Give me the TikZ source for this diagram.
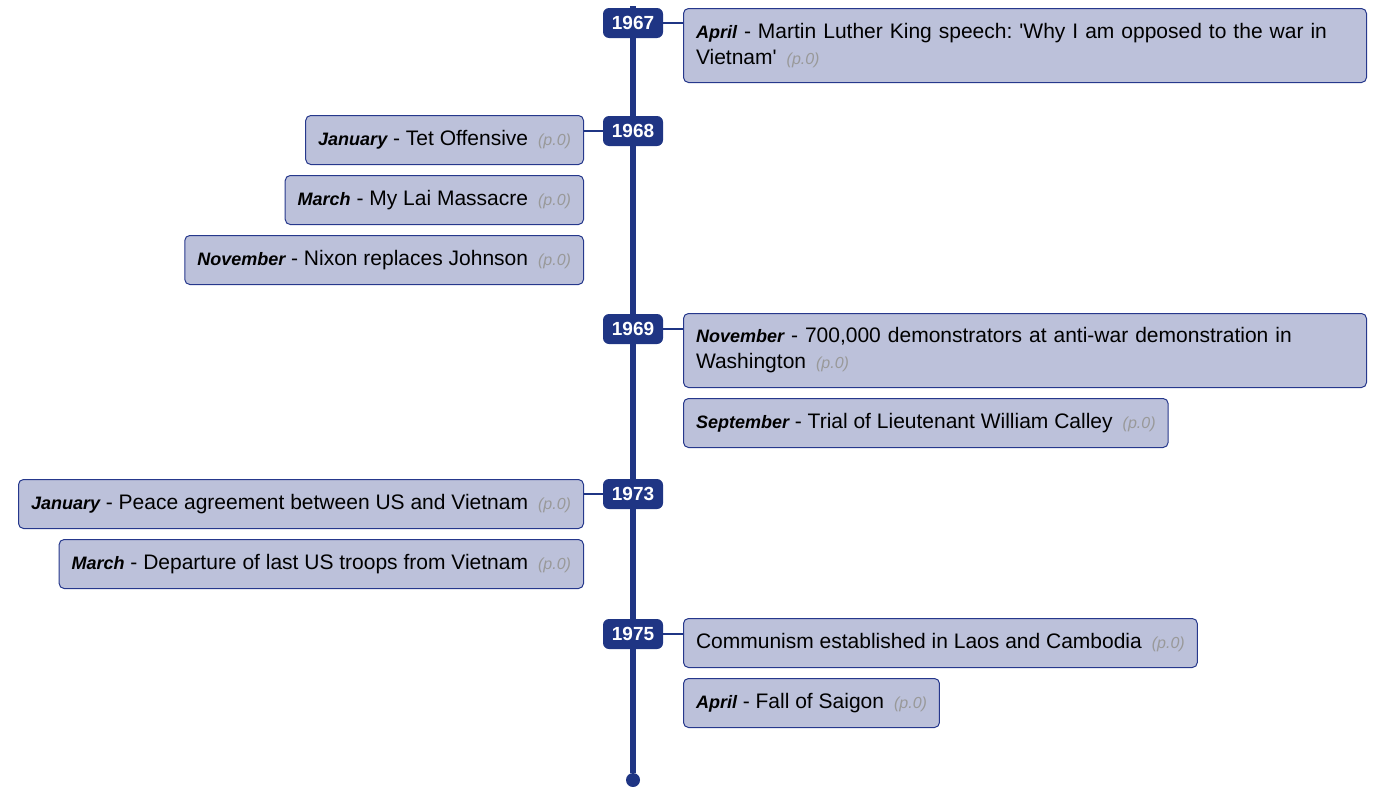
\documentclass[tikz,border=0pt]{standalone}
\usepackage{fontspec}
\setmainfont{Liberation Sans}[Ligatures=TeXOff]
\usetikzlibrary{positioning}
\definecolor{linecol}{RGB}{31,53,132}
\definecolor{boxfill}{RGB}{188,193,218}
\definecolor{boxdraw}{RGB}{38,56,140}
\newcommand{\mon}[1]{{\fontsize{18}{18}\selectfont\bfseries\itshape #1}}
\newcommand{\pg}{\hspace{10pt}{\fontsize{16}{16}\selectfont\itshape\color{black!40}(p.0)}}
\frenchspacing

\begin{document}
\begin{tikzpicture}[
        x = 1pt,
        y = -1pt,
        year/.style={
          fill = linecol,
          text = white,
          rounded corners = 6pt,
          font = \fontsize{19}{19}\selectfont\bfseries,
          minimum width = 60pt,
          minimum height = 30pt,
          inner sep = 0pt,
        },
        event/.style={
          draw = boxdraw,
          fill = boxfill,
          line width = 1pt,
          rounded corners = 5pt,
          font = \fontsize{21}{26}\selectfont,
          minimum height = 49pt,
          inner xsep = 12.5pt,
          align = left,
        },
        twoline/.style={
          text width = 658pt,
          minimum height = 74pt,
        },
        link/.style={
          draw = linecol,
          line width = 2pt,
        },
        ]
        \useasboundingbox (0,0) rectangle (1376,787);
        % timeline
        \coordinate (top) at (633,6);
        \node [circle, fill=linecol, minimum size=14pt, inner sep=0pt] (end) at (633,780) {};
        \draw [linecol, line width=6pt] (top) -- (end);
        % years
        \node [year] (y1967) at (633,23) {1967};
        \node [year] (y1968) at (633,131) {1968};
        \node [year] (y1969) at (633,329) {1969};
        \node [year] (y1973) at (633,494) {1973};
        \node [year] (y1975) at (633,634) {1975};
        % 1967
        \node [event, twoline, anchor=north west] (apr67) at (683,8)
          {\mon{April} - Martin Luther King speech: 'Why I am opposed to the war in\\Vietnam'\pg};
        % 1968
        \node [event, anchor=north east] (jan68) at (584,115)
          {\mon{January} - Tet Offensive\pg};
        \node [event, below left=10pt and 0pt of jan68.south east] (mar68)
          {\mon{March} - My Lai Massacre\pg};
        \node [event, below left=10pt and 0pt of mar68.south east] (nov68)
          {\mon{November} - Nixon replaces Johnson\pg};
        % 1969
        \node [event, twoline, anchor=north west] (nov69) at (683,313)
          {\mon{November} - 700,000 demonstrators at anti-war demonstration in\\Washington\pg};
        \node [event, below right=10pt and 0pt of nov69.south west] (sep69)
          {\mon{September} - Trial of Lieutenant William Calley\pg};
        % 1973
        \node [event, anchor=north east] (jan73) at (584,479)
          {\mon{January} - Peace agreement between US and Vietnam\pg};
        \node [event, below left=10pt and 0pt of jan73.south east] (mar73)
          {\mon{March} - Departure of last US troops from Vietnam\pg};
        % 1975
        \node [event, anchor=north west] (com75) at (683,618)
          {Communism established in Laos and Cambodia\pg};
        \node [event, below right=10pt and 0pt of com75.south west] (apr75)
          {\mon{April} - Fall of Saigon\pg};
        % links
        \draw [link] (y1967.east) -- (apr67.west |- y1967);
        \draw [link] (y1968.west) -- (jan68.east |- y1968);
        \draw [link] (y1969.east) -- (nov69.west |- y1969);
        \draw [link] (y1973.west) -- (jan73.east |- y1973);
        \draw [link] (y1975.east) -- (com75.west |- y1975);
      \end{tikzpicture}
\end{document}
